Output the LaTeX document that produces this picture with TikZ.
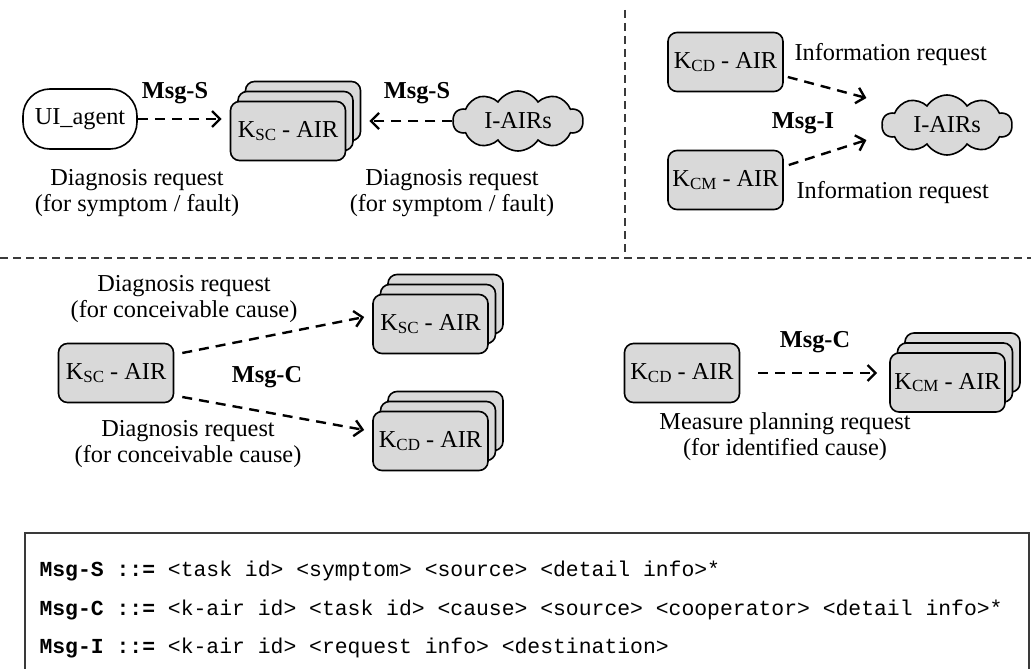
\documentclass[tikz,border=0pt]{standalone}
\usepackage{fontspec}
\setmainfont{Liberation Serif}
\setmonofont{Liberation Mono}
\usetikzlibrary{arrows.meta,shapes.symbols}

\definecolor{boxgray}{HTML}{D9D9D9}
\definecolor{sepgray}{HTML}{3A3A3A}

% K with an upright subscript, e.g. K_SC - AIR
\newcommand\airlabel[1]{K\raisebox{-2.5pt}{\fontsize{17}{17}\selectfont #1} - AIR}

\tikzset{
  every node/.style={font=\fontsize{24.3}{28}\selectfont},
  airbox/.style={draw, line width=1.6pt, fill=boxgray, rounded corners=9pt,
    minimum width=115pt, minimum height=59pt, inner sep=0pt},
  agentbox/.style={draw, line width=1.6pt, fill=white, rounded corners=27pt,
    minimum width=114pt, minimum height=60pt, inner sep=0pt},
  cloudnode/.style={cloud, cloud puffs=10, cloud puff arc=115, aspect=2.2,
    draw, line width=1.6pt, fill=boxgray,
    minimum width=130pt, minimum height=60pt, inner sep=0pt},
  msg/.style={line width=2.4pt, dash pattern=on 10pt off 7pt,
    -{Straight Barb[length=8pt,width=16pt,line width=2.4pt]}},
  msglabel/.style={font=\fontsize{24.3}{28}\selectfont\bfseries},
  note/.style={align=center},
  sep/.style={draw=sepgray, line width=2pt, dash pattern=on 8pt off 5pt},
  codeline/.style={anchor=west, font=\fontsize{21.4}{24}\selectfont\ttfamily},
}

% three stacked agent boxes; the front one carries the name and label
\newcommand\airstack[3]{%
  \node[airbox, xshift=15pt, yshift=20pt] (#1-back) at (#2) {};
  \node[airbox, xshift=7.5pt, yshift=10pt] (#1-mid) at (#2) {};
  \node[airbox] (#1) at (#2) {\airlabel{#3}};
}

\begin{document}
\begin{tikzpicture}[x=1pt, y=-1pt]
\useasboundingbox (0,0) rectangle (1031,669);

% panel separators
\draw[sep] (625,10) -- (625,256);
\draw[sep] (0,258) -- (1031,258);

% ---- symptom diagnosis requests
\node[agentbox] (ui) at (80,119) {UI\_agent};
\airstack{sc1}{288,131}{SC}
\node[cloudnode] (iair1) at (518,121) {I-AIRs};
\draw[msg, shorten >=8pt] (ui.east) -- (ui.east -| sc1.west);
\draw[msg, shorten >=8pt] (iair1.west) -- (iair1.west -| sc1-back.east);
\node[msglabel] (ms1) at (175,93) {Msg-S};
\node[msglabel] (ms2) at (417,93) {Msg-S};
\node[note] (d1) at (137,193) {Diagnosis request\\[-2pt](for symptom / fault)};
\node[note] (d2) at (452,193) {Diagnosis request\\[-2pt](for symptom / fault)};

% ---- information requests
\node[airbox] (kcd1) at (725.5,62) {\airlabel{CD}};
\node[airbox] (kcm1) at (725.5,180) {\airlabel{CM}};
\node[cloudnode] (iair2) at (947,125) {I-AIRs};
\draw[msg] ([xshift=4pt,yshift=-15pt]kcd1.east) -- ([xshift=-15pt,yshift=27pt]iair2.west);
\draw[msg] ([xshift=5pt,yshift=15pt]kcm1.east) -- ([xshift=-15pt,yshift=-15pt]iair2.west);
\node[msglabel] (mi) at (803,123) {Msg-I};
\node[anchor=west] (ir1) at (791,55) {Information request};
\node[anchor=west] (ir2) at (793,193) {Information request};

% ---- cause diagnosis requests
\node[airbox] (ksc) at (116,373) {\airlabel{SC}};
\airstack{sc2}{430.5,324}{SC}
\airstack{cd2}{430.5,441}{CD}
\draw[msg] ([xshift=8pt,yshift=20pt]ksc.east) -- ([xshift=-8pt,yshift=7pt]sc2.west);
\draw[msg] ([xshift=8pt,yshift=-24pt]ksc.east) -- ([xshift=-8pt,yshift=11pt]cd2.west);
\node[msglabel] (mc1) at (267,377) {Msg-C};
\node[note] (d3) at (184,299) {Diagnosis request\\[-2pt](for conceivable cause)};
\node[note] (d4) at (188,444) {Diagnosis request\\[-2pt](for conceivable cause)};

% ---- measure planning request
\node[airbox] (kcd3) at (682,373) {\airlabel{CD}};
\airstack{cm3}{947.5,382.5}{CM}
\draw[msg, shorten <=18pt, shorten >=12pt] (kcd3.east) -- (kcd3.east -| cm3.west);
\node[msglabel] (mc2) at (815,342) {Msg-C};
\node[note] (d5) at (785,437) {Measure planning request\\[-2pt](for identified cause)};

% ---- message grammar
\draw[draw=sepgray, line width=2pt] (25,680) -- (25,533) -- (1029,533) -- (1029,680);
\node[codeline] (gs) at (36,571) {\textbf{Msg-S ::=} <task id> <symptom> <source> <detail info>*};
\node[codeline] (gc) at (36,610) {\textbf{Msg-C ::=} <k-air id> <task id> <cause> <source> <cooperator> <detail info>*};
\node[codeline] (gi) at (36,648) {\textbf{Msg-I ::=} <k-air id> <request info> <destination>};
\end{tikzpicture}
\end{document}
